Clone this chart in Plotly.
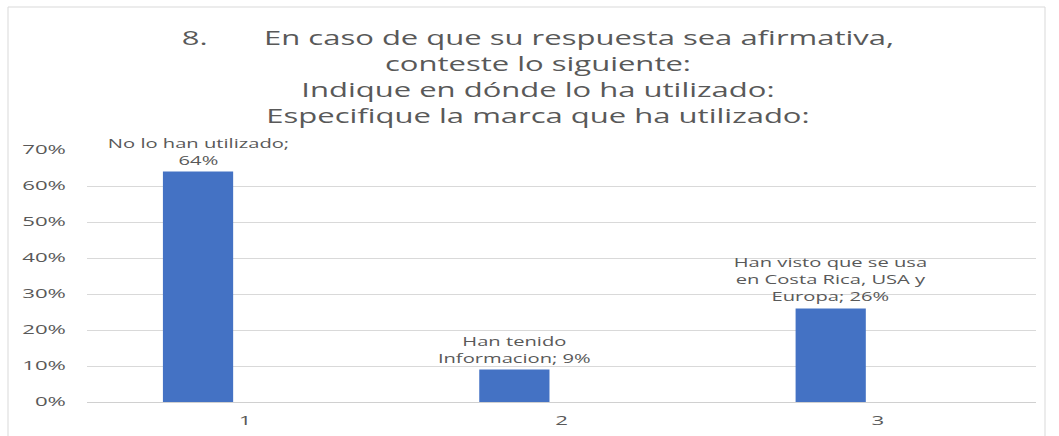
import plotly.graph_objects as go

# Survey answers (category index, share of respondents)
categories = [1, 2, 3]
values = [0.64, 0.09, 0.26]
answer_labels = [
    "No lo han utilizado;<br>64%",
    "Han tenido<br>Informacion; 9%",
    "Han visto que se usa<br>en Costa Rica, USA y<br>Europa; 26%",
]
y_ticks = [0, 0.1, 0.2, 0.3, 0.4, 0.5, 0.6, 0.7]
y_tick_text = ["0%", "10%", "20%", "30%", "40%", "50%", "60%", "70%"]

title_lines = [
    "8.\u00a0\u00a0\u00a0\u00a0\u00a0\u00a0\u00a0En caso de que su respuesta sea afirmativa,",
    "conteste lo siguiente:",
    "Indique en dónde lo ha utilizado:",
    "Especifique la marca que ha utilizado:",
]

BAR_WIDTH = 0.222
BAR_OFFSET = -0.26
BLUE = "#4472c4"
GREY_TEXT = "#595959"
FONT = "Open Sans"

fig = go.Figure()
fig.add_trace(go.Bar(
    x=categories,
    y=values,
    width=BAR_WIDTH,
    offset=BAR_OFFSET,
    marker=dict(color=BLUE, line=dict(width=0)),
    hoverinfo="skip",
))

# Data labels centred over each bar
for c, v, lab in zip(categories, values, answer_labels):
    fig.add_annotation(
        x=c + BAR_OFFSET + BAR_WIDTH / 2, y=v, text=lab,
        showarrow=False, xanchor="center", yanchor="bottom", yshift=1,
        font=dict(family=FONT, size=13, color=GREY_TEXT),
        align="center",
    )

fig.update_layout(
    width=1059, height=436,
    margin=dict(l=87, r=23, t=150, b=34, autoexpand=False),
    paper_bgcolor="white", plot_bgcolor="white",
    showlegend=False,
    title=dict(
        text="<br>".join(title_lines),
        x=0.508, xanchor="center", y=0.897, yanchor="top",
        font=dict(family=FONT, size=20, color=GREY_TEXT),
    ),
    xaxis=dict(
        range=[0.5, 3.5], tickvals=categories, ticktext=[str(c) for c in categories],
        showgrid=False, zeroline=False, showline=False, ticks="",
        ticklabelstandoff=10, automargin=False,
        tickfont=dict(family=FONT, size=12, color=GREY_TEXT),
    ),
    yaxis=dict(
        range=[0, 0.7], tickvals=y_ticks, ticktext=y_tick_text,
        showgrid=True, gridcolor="#d9d9d9", gridwidth=1,
        zeroline=True, zerolinecolor="#d0d0d0", zerolinewidth=1,
        showline=False, ticks="", ticklabelstandoff=20, automargin=False,
        tickfont=dict(family=FONT, size=12, color=GREY_TEXT),
    ),
    shapes=[dict(
        type="rect", xref="paper", yref="paper",
        x0=-79 / 949, x1=(1045 - 87) / 949, y0=-0.2, y1=(436 - 7 - 34) / 252,
        line=dict(color="#d9d9d9", width=1), fillcolor="rgba(0,0,0,0)", layer="below",
    )],
)

# Widen the lettering horizontally (wide, Excel-style text look)
stretch_js = """
var gd = document.getElementById('{plot_id}');
function widen(sel, k) {
  gd.querySelectorAll(sel).forEach(function (t) {
    var lines = t.querySelectorAll('tspan.line');
    var items = lines.length ? Array.prototype.slice.call(lines) : [t];
    items.forEach(function (el) {
      if (el.getAttribute('data-wide')) return;
      var w = el.getComputedTextLength();
      if (!w) return;
      el.setAttribute('textLength', (w * k).toFixed(2));
      el.setAttribute('lengthAdjust', 'spacingAndGlyphs');
      el.setAttribute('data-wide', '1');
    });
  });
}
widen('text.gtitle', 1.55);
widen('text.annotation-text', 1.55);
widen('g.xtick text', 1.85);
widen('g.ytick text', 1.85);
"""

fig.write_html("out.html", post_script=stretch_js)
